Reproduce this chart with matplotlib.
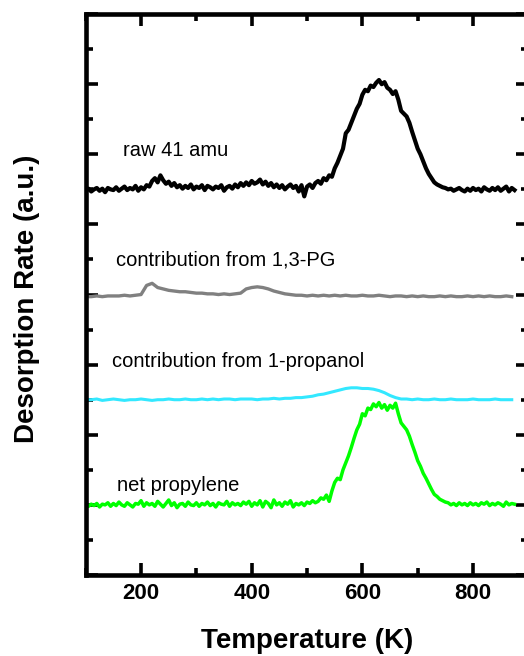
import matplotlib
matplotlib.use("Agg")
import matplotlib.pyplot as plt
from matplotlib.ticker import MultipleLocator, NullFormatter
import numpy as np

plt.rcParams['font.family'] = ['Liberation Sans', 'DejaVu Sans']

# temperature grids (K)
temp_fine = np.arange(100, 880, 5)     # 100 ... 875
temp = np.arange(100, 880, 10)         # 100 ... 870

# raw 41 amu signal (a.u., above its own baseline)
raw_41 = [
    -0.02, 0.01, -0.03, 0.0, 0.02, -0.02, 0.01, -0.04, 0.02, 0.0, -0.01, 0.03, -0.02, 0.01, 0.04, -0.01, 0.02, 0.0, 0.05, -0.02,
    0.03, 0.0, 0.06, 0.04, 0.12, 0.16, 0.1, 0.2, 0.13, 0.08, 0.11, 0.05, 0.09, 0.03, 0.06, 0.01, 0.05, 0.02, 0.07, 0.0,
    0.04, 0.02, 0.06, -0.01, 0.05, 0.03, 0.0, 0.04, 0.02, 0.06, -0.02, 0.03, 0.05, 0.01, 0.07, 0.03, 0.09, 0.05, 0.1, 0.06,
    0.12, 0.08, 0.1, 0.14, 0.07, 0.11, 0.05, 0.09, 0.03, 0.07, 0.02, 0.06, 0.0, 0.04, 0.07, 0.02, 0.05, -0.03, 0.06, -0.1,
    0.04, 0.07, 0.02, 0.09, 0.12, 0.08, 0.16, 0.13, 0.2, 0.18, 0.3, 0.38, 0.48, 0.58, 0.8, 0.85, 0.95, 1.05, 1.15, 1.22,
    1.35, 1.42, 1.4, 1.48, 1.46, 1.52, 1.56, 1.5, 1.53, 1.45, 1.42, 1.36, 1.4, 1.28, 1.12, 1.08, 1.04, 0.95, 0.82, 0.7,
    0.58, 0.5, 0.4, 0.3, 0.22, 0.16, 0.1, 0.07, 0.05, 0.03, 0.02, 0.0, 0.01, -0.02, 0.0, 0.02, -0.01, -0.03, 0.01, -0.02,
    0.02, -0.01, 0.01, -0.03, 0.03, 0.0, -0.02, 0.02, -0.01, 0.03, -0.02, 0.01, 0.04, -0.03, 0.02, -0.01,
]

# contribution from 1,3-PG
from_pg = [
    -0.03, -0.03, -0.02, -0.03, -0.02, -0.02, -0.02, -0.01, -0.02, -0.01,
    0.0, 0.13, 0.16, 0.1, 0.08, 0.06, 0.05, 0.04, 0.04, 0.03,
    0.02, 0.02, 0.01, 0.01, 0.0, 0.01, 0.0, 0.01, 0.02, 0.08,
    0.1, 0.11, 0.1, 0.08, 0.05, 0.03, 0.01, 0.0, -0.01, -0.01,
    -0.02, -0.01, -0.02, -0.01, -0.02, -0.01, -0.02, -0.01, -0.02, -0.02,
    -0.01, -0.02, -0.02, -0.01, -0.02, -0.03, -0.02, -0.02, -0.03, -0.02,
    -0.03, -0.02, -0.03, -0.03, -0.02, -0.03, -0.02, -0.03, -0.03, -0.02,
    -0.03, -0.02, -0.03, -0.02, -0.03, -0.03, -0.02, -0.03,
]

# contribution from 1-propanol
from_propanol = [
    0.0, 0.0, 0.01, -0.01, 0.0, 0.01, 0.0, -0.01, 0.0, 0.0,
    0.01, 0.0, -0.01, 0.0, 0.0, 0.01, 0.0, 0.0, 0.01, 0.0,
    0.0, 0.01, 0.0, 0.01, 0.0, 0.01, 0.01, 0.0, 0.01, 0.01,
    0.01, 0.0, 0.01, 0.01, 0.02, 0.01, 0.02, 0.02, 0.03, 0.03,
    0.04, 0.05, 0.07, 0.08, 0.1, 0.12, 0.14, 0.16, 0.17, 0.17,
    0.16, 0.16, 0.15, 0.13, 0.1, 0.06, 0.03, 0.01, 0.01, 0.0,
    0.01, 0.0, 0.0, 0.01, 0.0, 0.0, 0.01, 0.0, 0.0, 0.0,
    0.01, 0.0, 0.0, 0.0, 0.01, 0.0, 0.0, 0.0,
]

# net propylene
net_propylene = [
    0.0, -0.02, 0.01, -0.01, 0.02, -0.03, 0.01, 0.0, 0.03, -0.02, 0.02, -0.01, 0.04, 0.0, -0.02, 0.03, 0.0, -0.03, 0.02, 0.01,
    0.06, -0.02, 0.03, 0.0, 0.02, -0.02, 0.05, 0.01, -0.03, 0.02, 0.07, -0.01, 0.03, -0.04, 0.01, 0.02, -0.02, 0.04, 0.0, -0.01,
    0.03, -0.02, 0.02, 0.0, 0.04, -0.01, 0.02, -0.03, 0.03, 0.01, 0.0, 0.05, -0.02, 0.03, 0.0, 0.02, -0.01, 0.04, 0.01, 0.05,
    -0.02, 0.03, 0.0, 0.06, -0.03, 0.05, 0.02, -0.04, 0.07, 0.0, 0.03, -0.02, 0.04, 0.01, 0.06, -0.03, 0.02, 0.0, 0.03, -0.01,
    0.04, 0.02, 0.06, 0.03, 0.05, 0.1, 0.08, 0.14, 0.05, 0.2, 0.32, 0.38, 0.36, 0.5, 0.6, 0.7, 0.82, 0.95, 1.07, 1.15,
    1.3, 1.27, 1.38, 1.36, 1.44, 1.4, 1.46, 1.38, 1.43, 1.35, 1.42, 1.38, 1.45, 1.3, 1.17, 1.12, 1.07, 0.98, 0.86, 0.75,
    0.63, 0.55, 0.45, 0.38, 0.3, 0.22, 0.15, 0.12, 0.08, 0.06, 0.04, 0.03, 0.0, 0.02, -0.01, 0.03, 0.0, 0.02, -0.01, 0.03,
    0.0, 0.02, -0.01, 0.03, 0.01, 0.04, -0.01, 0.02, 0.0, 0.03, 0.01, -0.02, 0.04, 0.0, 0.02, 0.01,
]

# vertical offsets used to stack the traces
off_raw, off_pg, off_prop, off_net = 5.5, 4.0, 2.5, 1.0

fig = plt.figure(figsize=(5.24, 6.56), dpi=100)
ax = fig.add_axes([0.1636, 0.1235, 0.8447, 0.855])

ax.plot(temp_fine, np.array(raw_41) + off_raw, color='black', lw=3.0)
ax.plot(temp, np.array(from_pg) + off_pg, color='#808080', lw=2.4)
ax.plot(temp, np.array(from_propanol) + off_prop, color='#33e8ff', lw=2.2)
ax.plot(temp_fine, np.array(net_propylene) + off_net, color='#00ff00', lw=2.5)

txt = dict(fontsize=14.5, ha='left', va='baseline')
ax.text(167, 5.97, 'raw 41 amu', **txt)
ax.text(155, 4.41, 'contribution from 1,3-PG', **txt)
ax.text(148, 2.97, 'contribution from 1-propanol', **txt)
ax.text(157, 1.20, 'net propylene', **txt)

ax.set_xlim(100, 900)
ax.set_ylim(0, 8)
ax.xaxis.set_major_locator(MultipleLocator(200))
ax.xaxis.set_minor_locator(MultipleLocator(100))
ax.yaxis.set_major_locator(MultipleLocator(1))
ax.yaxis.set_minor_locator(MultipleLocator(0.5))
ax.yaxis.set_major_formatter(NullFormatter())

for s in ax.spines.values():
    s.set_linewidth(3.3)
ax.tick_params(which='both', direction='in', top=True, right=True, width=2.6)
ax.tick_params(which='major', length=8.5, pad=6, labelsize=16)
ax.tick_params(which='minor', length=5)
for lab in ax.get_xticklabels():
    lab.set_fontweight('bold')

ax.set_xlabel('Temperature (K)', fontsize=20, fontweight='bold')
ax.set_ylabel('Desorption Rate (a.u.)', fontsize=20, fontweight='bold')
ax.xaxis.set_label_coords(0.5, -0.0945)
ax.yaxis.set_label_coords(-0.104, 0.492)

fig.savefig('out.png', dpi=100)
